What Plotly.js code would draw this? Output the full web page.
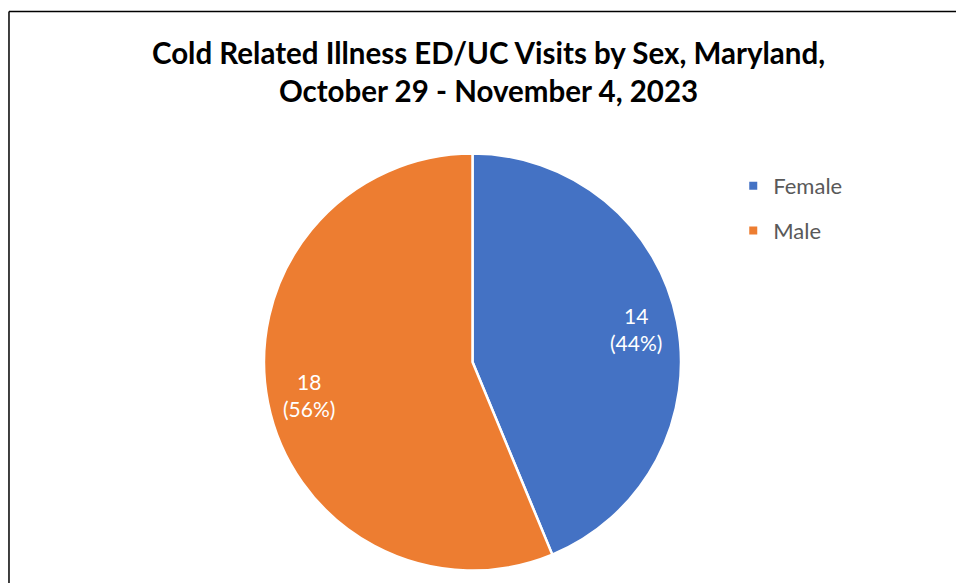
<!DOCTYPE html>
<html>
<head>
<meta charset="utf-8">
<script src="https://cdn.plot.ly/plotly-3.0.1.min.js"></script>
<style>
  body { margin: 0; background: #fff; }
  #plot { width: 956px; height: 583px; }
</style>
</head>
<body>
<div id="plot"></div>
<script>
// visits by sex
var sexes = ['Female', 'Male'];
var visits = [14, 18];
var sliceColors = ['#4472C4', '#ED7D31'];

// pie placement in pixels (margins are 0, so paper == page)
var W = 956, H = 583;
var cx = 472.5, cy = 362, rad = 208.5;

var pieTrace = {
    type: 'pie',
    labels: sexes,
    values: visits,
    sort: false,
    direction: 'clockwise',
    rotation: 0,
    marker: { colors: sliceColors, line: { color: '#ffffff', width: 2.5 } },
    textinfo: 'none',
    hoverinfo: 'label+value+percent',
    showlegend: false,
    domain: { x: [(cx - rad) / W, (cx + rad) / W], y: [1 - (cy + rad) / H, 1 - (cy - rad) / H] }
};

var data = [pieTrace];

// legend entries as empty square-marker traces so the item spacing can be set
for (var j = 0; j < sexes.length; j++) {
    data.push({
        type: 'scatter',
        mode: 'markers',
        x: [null], y: [null],
        name: sexes[j],
        legendgroup: sexes[j],
        marker: { symbol: 'square', size: 8, color: sliceColors[j] },
        hoverinfo: 'skip'
    });
}

// data labels, placed along each slice's middle angle
var total = visits.reduce(function(a, b) { return a + b; }, 0);
var labelAnns = [];
var cum = 0;
for (var i = 0; i < visits.length; i++) {
    var f = (cum + visits[i] / 2) / total;
    cum += visits[i];
    var th = 2 * Math.PI * f;
    var px = cx + 0.8 * rad * Math.sin(th);
    var py = cy - 0.8 * rad * Math.cos(th);
    labelAnns.push({
        xref: 'paper', yref: 'paper',
        x: px / W, y: 1 - py / H,
        xanchor: 'center', yanchor: 'middle',
        text: visits[i] + '<br>(' + Math.round(100 * visits[i] / total) + '%)',
        showarrow: false,
        font: { family: 'Lato, sans-serif', size: 21, color: '#ffffff' }
    });
}

var layout = {
    width: W,
    height: H,
    margin: { l: 0, r: 0, t: 0, b: 0 },
    paper_bgcolor: '#ffffff',
    plot_bgcolor: '#ffffff',
    xaxis: { visible: false },
    yaxis: { visible: false },
    title: {
        text: '<b>Cold Related Illness ED/UC Visits by Sex, Maryland,<br>October 29 - November 4, 2023</b>',
        font: { family: 'Lato, sans-serif', size: 29.5, color: '#000000' },
        x: 0.511,
        xanchor: 'center',
        y: 0.8905,
        yanchor: 'bottom',
        yref: 'container'
    },
    showlegend: true,
    legend: {
        x: 0.767,
        y: 0.717,
        xanchor: 'left',
        yanchor: 'top',
        tracegroupgap: 13,
        font: { family: 'Lato, sans-serif', size: 22, color: '#595959' },
        itemclick: false
    },
    annotations: labelAnns,
    shapes: [
        // chart border, only top and left show in the crop
        { type: 'line', xref: 'paper', yref: 'paper', x0: 0.0094, x1: 1.01, y0: 0.9803, y1: 0.9803,
          line: { color: '#000000', width: 1.5 } },
        { type: 'line', xref: 'paper', yref: 'paper', x0: 0.0094, x1: 0.0094, y0: -0.01, y1: 0.9803,
          line: { color: '#000000', width: 1.5 } }
    ]
};

Plotly.newPlot('plot', data, layout, { displayModeBar: false, staticPlot: true });
</script>
</body>
</html>
